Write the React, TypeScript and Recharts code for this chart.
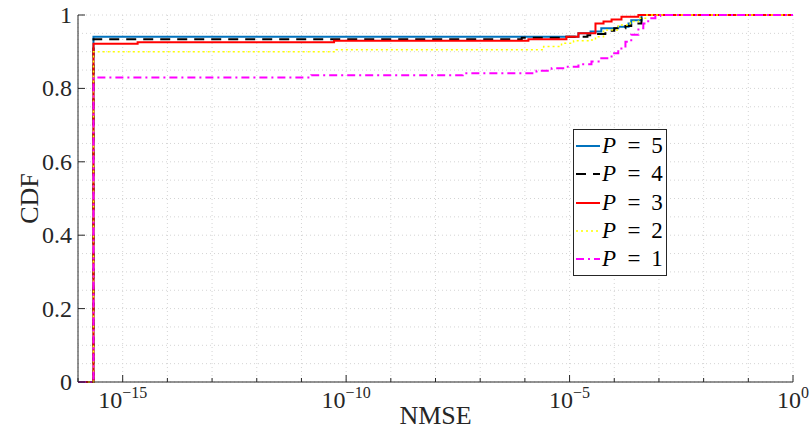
import React from "react";
import { LineChart, Line, XAxis, YAxis, CartesianGrid, Legend } from "recharts";

const nmseP5 = [1e-16, 2.22e-16, 1.58e-5, 2.95e-5, 5.13e-5, 1.23e-4, 2.09e-4, 2.4e-4, 4.07e-4, 1];
const cdfP5 = [0, 0.941, 0.95, 0.955, 0.964, 0.968, 0.977, 0.986, 1, 1];

const nmseP4 = [1e-16, 2.22e-16, 8.51e-7, 8.51e-6, 2.51e-5, 3.8e-5, 6.31e-5, 1.0e-4, 1.78e-4, 2.4e-4, 4.07e-4, 5.25e-4, 1];
const cdfP4 = [0, 0.934, 0.938, 0.941, 0.945, 0.948, 0.957, 0.964, 0.97, 0.977, 0.991, 1, 1];

const nmseP3 = [1e-16, 2.22e-16, 2.16e-15, 5.37e-11, 1.2e-6, 8.51e-6, 1.58e-5, 3.8e-5, 5.75e-5, 8.71e-5, 1.45e-4, 3.47e-4, 1];
const cdfP3 = [0, 0.922, 0.926, 0.93, 0.934, 0.941, 0.95, 0.977, 0.982, 0.988, 0.995, 1, 1];

const nmseP2 = [1e-16, 2.22e-16, 6.03e-11, 2.63e-6, 6.61e-6, 1.23e-5, 2.95e-5, 3.8e-5, 5.75e-5, 1.23e-4, 2.29e-4, 3.47e-4, 5.01e-4, 1];
const cdfP2 = [0, 0.9, 0.905, 0.914, 0.923, 0.93, 0.932, 0.941, 0.959, 0.973, 0.982, 0.991, 1, 1];

const nmseP1 = [1e-16, 2.22e-16, 1.66e-11, 4.07e-8, 1.82e-6, 3.98e-6, 8.51e-6, 1.58e-5, 3.09e-5, 5.13e-5, 8.71e-5, 1.23e-4, 1.78e-4, 2.4e-4, 3.47e-4, 4.47e-4, 5.75e-4, 8.32e-4, 1.07e-3, 1];
const cdfP1 = [0, 0.83, 0.836, 0.841, 0.848, 0.855, 0.859, 0.866, 0.873, 0.882, 0.896, 0.909, 0.927, 0.946, 0.964, 0.977, 0.991, 0.997, 1, 1];

const xTicks = [1e-16, 1e-15, 1e-14, 1e-13, 1e-12, 1e-11, 1e-10, 1e-9, 1e-8, 1e-7, 1e-6, 1e-5, 1e-4, 1e-3, 1e-2, 1e-1, 1];
const yTicks = [0, 0.05, 0.1, 0.15, 0.2, 0.25, 0.3, 0.35, 0.4, 0.45, 0.5, 0.55, 0.6, 0.65, 0.7, 0.75, 0.8, 0.85, 0.9, 0.95, 1];

const toPoints = (xs: number[], ys: number[]) => xs.map((nmse, i) => ({ nmse, cdf: ys[i] }));

const series = [
  { p: 5, data: toPoints(nmseP5, cdfP5), color: "#0072BD", dash: undefined, width: 2 },
  { p: 4, data: toPoints(nmseP4, cdfP4), color: "#000000", dash: "10 7", width: 2 },
  { p: 3, data: toPoints(nmseP3, cdfP3), color: "#FF0000", dash: undefined, width: 2 },
  { p: 2, data: toPoints(nmseP2, cdfP2), color: "#FFFF00", dash: "2 3", width: 1.5 },
  { p: 1, data: toPoints(nmseP1, cdfP1), color: "#FF00FF", dash: "8 4 2 4", width: 2 },
];

const FONT = "'Liberation Serif', 'DejaVu Serif', serif";
const AXIS = "#262626";

const isMajorX = (v: number) => Math.round(Math.log10(v)) % 5 === 0;
const isMajorY = (v: number) => Math.round(v * 100) % 20 === 0;

function BottomTick({ x, y, payload }: any) {
  const e = Math.round(Math.log10(payload.value));
  const major = isMajorX(payload.value);
  return (
    <g>
      <line x1={x} x2={x} y1={y} y2={y - (major ? 7 : 4)} stroke={AXIS} />
      {major && (
        <text x={x} y={y + 26} textAnchor="middle" fontFamily={FONT} fontSize={24} fill="#262626">
          <tspan>10</tspan>
          <tspan dy={-10} fontSize={16}>{e === 0 ? "0" : "\u2212" + Math.abs(e)}</tspan>
        </text>
      )}
    </g>
  );
}

function TopTick({ x, y, payload }: any) {
  const major = isMajorX(payload.value);
  return <line x1={x} x2={x} y1={y} y2={y + (major ? 7 : 4)} stroke={AXIS} />;
}

function LeftTick({ x, y, payload }: any) {
  if (!isMajorY(payload.value)) return <g />;
  const v = payload.value;
  const label = v === 0 || v === 1 ? String(v) : v.toFixed(1);
  return (
    <g>
      <line x1={x} x2={x + 7} y1={y} y2={y} stroke={AXIS} />
      <text x={x - 6} y={y + 8} textAnchor="end" fontFamily={FONT} fontSize={24} fill="#262626">
        {label}
      </text>
    </g>
  );
}

function RightTick({ x, y, payload }: any) {
  if (!isMajorY(payload.value)) return <g />;
  return <line x1={x} x2={x - 7} y1={y} y2={y} stroke={AXIS} />;
}

function LegendBox() {
  return (
    <div
      style={{
        border: `1px solid ${AXIS}`,
        background: "#fff",
        width: 92,
        padding: "2px 0",
        fontFamily: FONT,
        fontSize: 23,
        color: "#000",
      }}
    >
      {series.map((s) => (
        <div key={s.p} style={{ display: "flex", alignItems: "center", height: 28.3 }}>
          <svg width={28} height={10} style={{ display: "block" }}>
            <line x1={2} x2={26} y1={5} y2={5} stroke={s.color} strokeWidth={s.width} strokeDasharray={s.dash} />
          </svg>
          <span style={{ display: "inline-block", width: 18, fontStyle: "italic" }}>P</span>
          <span style={{ display: "inline-block", width: 28, textAlign: "center" }}>=</span>
          <span style={{ display: "inline-block", width: 18, textAlign: "center" }}>{s.p}</span>
        </div>
      ))}
    </div>
  );
}

export default function App() {
  return (
    <div style={{ position: "absolute", left: 0, top: 0, background: "#fff" }}>
      <LineChart width={810} height={430} margin={{ top: 15, right: 17, bottom: 0, left: 0 }}>
        <CartesianGrid stroke="#d4d4d4" strokeDasharray="1 3" />
        <XAxis
          dataKey="nmse"
          type="number"
          scale="log"
          domain={[1e-16, 1]}
          ticks={xTicks}
          interval={0}
          height={48}
          tickSize={0}
          tickMargin={0}
          stroke={AXIS}
          tick={<BottomTick />}
          label={(props: any) => {
            const vb = props.viewBox;
            return (
              <text x={vb.x + vb.width / 2} y={vb.y + vb.height - 6} textAnchor="middle" fontFamily={FONT} fontSize={26} fill="#262626">
                NMSE
              </text>
            );
          }}
        />
        <XAxis
          xAxisId="top"
          orientation="top"
          dataKey="nmse"
          type="number"
          scale="log"
          domain={[1e-16, 1]}
          ticks={xTicks}
          interval={0}
          height={0}
          tickSize={0}
          tickMargin={0}
          stroke={AXIS}
          tick={<TopTick />}
        />
        <YAxis
          type="number"
          domain={[0, 1]}
          ticks={yTicks}
          interval={0}
          width={78}
          tickSize={0}
          tickMargin={0}
          stroke={AXIS}
          tick={<LeftTick />}
          label={(props: any) => {
            const vb = props.viewBox;
            const cx = 29;
            const cy = vb.y + vb.height / 2;
            return (
              <text x={cx} y={cy} transform={`rotate(-90 ${cx} ${cy})`} textAnchor="middle" dominantBaseline="central" fontFamily={FONT} fontSize={26} fill="#262626">
                CDF
              </text>
            );
          }}
        />
        <YAxis
          yAxisId="right"
          orientation="right"
          type="number"
          domain={[0, 1]}
          ticks={yTicks}
          interval={0}
          width={0}
          tickSize={0}
          tickMargin={0}
          stroke={AXIS}
          tick={<RightTick />}
        />
        {series.map((s) => (
          <Line
            key={s.p}
            data={s.data}
            dataKey="cdf"
            name={`P = ${s.p}`}
            type="stepAfter"
            stroke={s.color}
            strokeWidth={s.width}
            strokeDasharray={s.dash}
            dot={false}
            activeDot={false}
            isAnimationActive={false}
          />
        ))}
        <Legend
          layout="vertical"
          align="center"
          verticalAlign="middle"
          content={<LegendBox />}
          wrapperStyle={{ left: 573, top: 129, width: 94 }}
        />
      </LineChart>
    </div>
  );
}
